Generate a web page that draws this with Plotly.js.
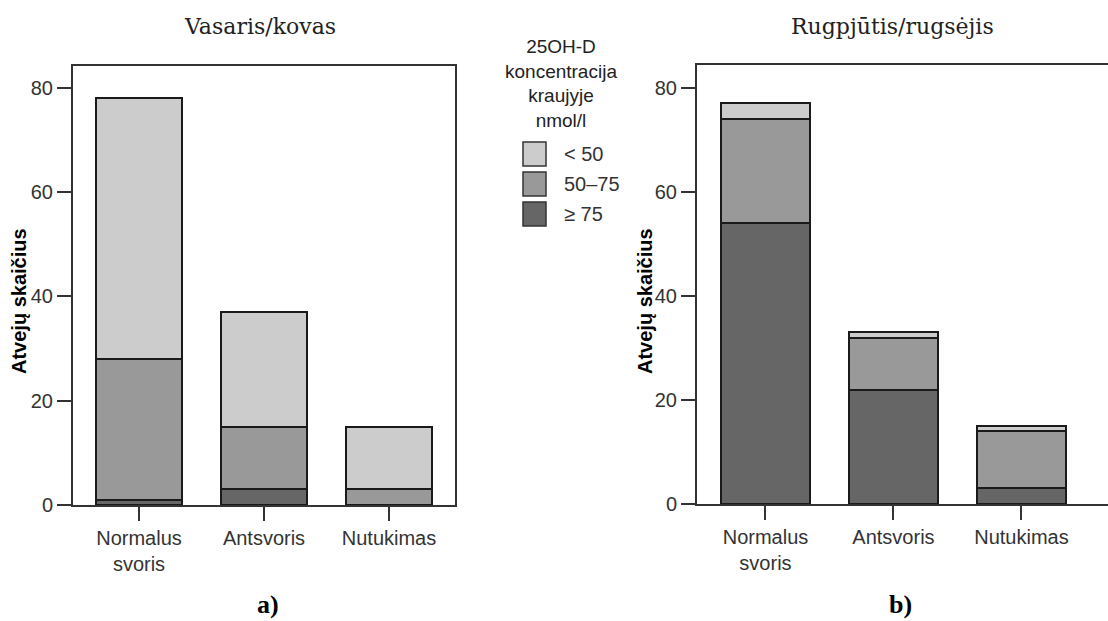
<!DOCTYPE html>
<html>
<head>
<meta charset="utf-8">
<script src="https://cdn.plot.ly/plotly-3.0.1.min.js"></script>
<style>
html,body{margin:0;padding:0;background:#fff;}
#chart{width:1108px;height:621px;}
</style>
</head>
<body>
<div id="chart"></div>
<script>
// Categories (BMI groups)
const categories = ['Normalus<br>svoris', 'Antsvoris', 'Nutukimas'];
// Legend / series names (25OH-D concentration, nmol/l)
const seriesNames = ['< 50', '50–75', '≥ 75'];
const legendTitle = '25OH-D<br>koncentracija<br>kraujyje<br>nmol/l';
const yTitle = 'Atvejų skaičius';
const panelTitles = ['Vasaris/kovas', 'Rugpjūtis/rugsėjis'];
const panelLabels = ['a)', 'b)'];
// a) Vasaris/kovas (February/March)
const febLow  = [50, 22, 12];   // < 50
const febMid  = [27, 12, 3];    // 50–75
const febHigh = [1, 3, 0];      // ≥ 75
// b) Rugpjūtis/rugsėjis (August/September)
const augLow  = [3, 1, 1];
const augMid  = [20, 10, 11];
const augHigh = [54, 22, 3];
// Tick values
const yTicks = [0, 20, 40, 60, 80];

const seriesColors = ['#cccccc', '#999999', '#666666'];
const line = {color: '#1a1a1a', width: 2};
const bw = 0.69;

function bar(y, i, xa, ya) {
  return {type: 'bar', x: categories, y: y, name: seriesNames[i], xaxis: xa, yaxis: ya,
    width: bw, marker: {color: seriesColors[i], line: line}, showlegend: false,
    hoverinfo: 'y'};
}

const data = [
  bar(febHigh, 2, 'x', 'y'),
  bar(febMid, 1, 'x', 'y'),
  bar(febLow, 0, 'x', 'y'),
  bar(augHigh, 2, 'x2', 'y2'),
  bar(augMid, 1, 'x2', 'y2'),
  bar(augLow, 0, 'x2', 'y2')
];

const sans = 'Liberation Sans, Arial, sans-serif';
const tickFont = {family: sans, size: 20, color: '#333'};

function xax(domain, range) {
  return {domain: domain, range: range, type: 'category', showgrid: false, zeroline: false,
    showline: true, mirror: true, linecolor: '#333', linewidth: 2,
    ticks: 'outside', ticklen: 14, tickwidth: 2, tickcolor: '#333',
    tickfont: tickFont, fixedrange: true};
}
function yax(domain, range, anchor) {
  return {domain: domain, range: range, anchor: anchor, showgrid: false, zeroline: false,
    showline: true, mirror: true, linecolor: '#333', linewidth: 2,
    ticks: 'outside', ticklen: 14, tickwidth: 2, tickcolor: '#333',
    tickvals: yTicks, ticktext: yTicks.map(String), tickfont: tickFont,
    automargin: false, fixedrange: true};
}

const W = 1108, H = 621;
const px = v => v / W, py = v => 1 - v / H;

const shapes = [];
const annotations = [
  {text: panelTitles[0], x: px(260), y: py(27)},
  {text: panelTitles[1], x: px(892), y: py(27)}
].map(a => Object.assign(a, {xref: 'paper', yref: 'paper', xanchor: 'center', yanchor: 'middle',
  showarrow: false, font: {family: 'DejaVu Serif, serif', size: 22, color: '#222'}}));

[[268, panelLabels[0]], [900, panelLabels[1]]].forEach(([x, t]) => annotations.push({
  text: t, xref: 'paper', yref: 'paper', x: px(x), y: py(604), xanchor: 'center', yanchor: 'middle',
  showarrow: false, font: {family: 'Liberation Serif, Times New Roman, serif', size: 26, color: '#000', weight: 'bold'}}));

[19, 645].forEach(x => annotations.push({
  text: yTitle, xref: 'paper', yref: 'paper', x: px(x), y: py(301), xanchor: 'center', yanchor: 'middle',
  textangle: -90, showarrow: false, font: {family: sans, size: 20, color: '#000', weight: 'bold'}}));

// Legend
annotations.push({text: legendTitle, xref: 'paper', yref: 'paper', x: px(561), y: py(84),
  xanchor: 'center', yanchor: 'middle', align: 'center', showarrow: false,
  font: {family: sans, size: 19, color: '#222'}});
seriesNames.forEach((name, i) => {
  const cy = 154 + 30 * i;
  shapes.push({type: 'rect', xref: 'paper', yref: 'paper', x0: px(523), x1: px(546),
    y0: py(cy - 12), y1: py(cy + 12), fillcolor: seriesColors[i], line: {color: '#333', width: 1.5}});
  annotations.push({text: name, xref: 'paper', yref: 'paper', x: px(562), y: py(cy),
    xanchor: 'left', yanchor: 'middle', showarrow: false, font: {family: sans, size: 20, color: '#333'}});
});

const layout = {
  width: W, height: H,
  margin: {l: 0, r: 0, t: 0, b: 0},
  paper_bgcolor: '#fff', plot_bgcolor: '#fff',
  barmode: 'stack',
  xaxis: xax([px(73), px(455)], [-0.528, 2.528]),
  yaxis: yax([py(505), py(66)], [0, 84.2], 'x'),
  xaxis2: Object.assign(xax([px(697), 1], [-0.535, 2.676]), {anchor: 'y2'}),
  yaxis2: yax([py(504), py(65)], [0, 84.4], 'x2'),
  showlegend: false,
  shapes: shapes,
  annotations: annotations
};

Plotly.newPlot('chart', data, layout, {displayModeBar: false, staticPlot: true});
</script>
</body>
</html>
